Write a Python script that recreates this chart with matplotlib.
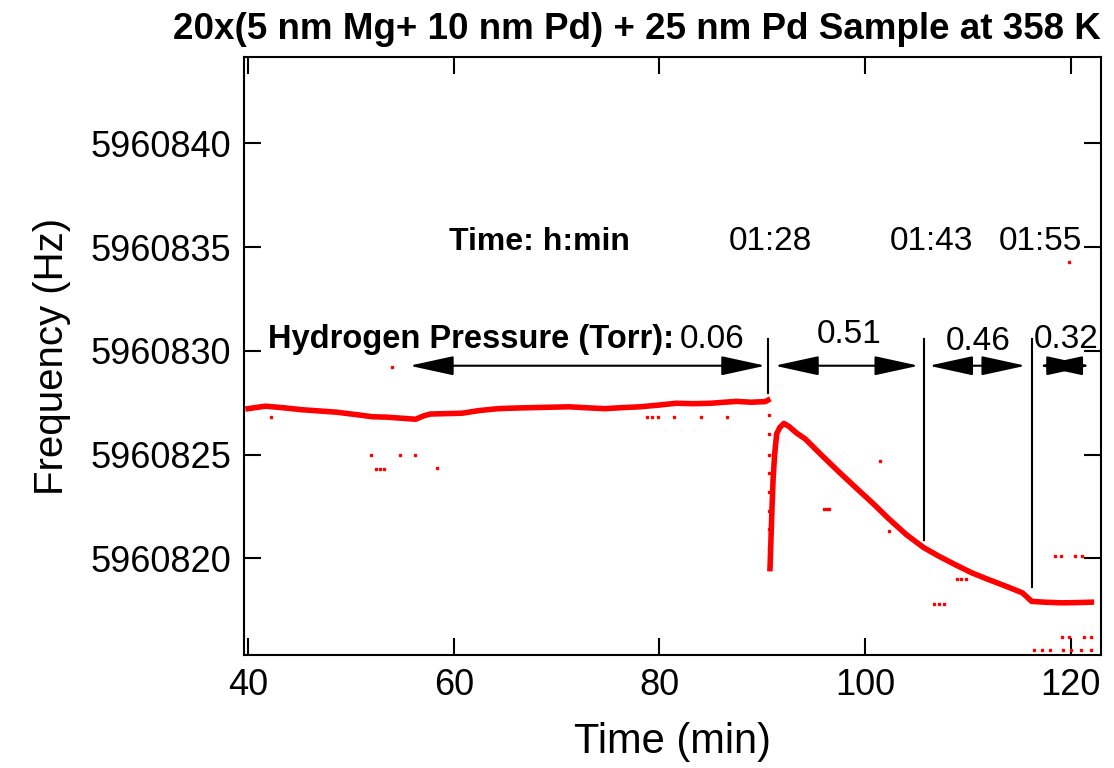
import matplotlib
matplotlib.use("Agg")
from matplotlib import pyplot as plt
from matplotlib.ticker import FormatStrFormatter, MultipleLocator

plt.rcParams["font.family"] = ["Liberation Sans", "DejaVu Sans"]

# baseline at 0.06 Torr (min, Hz)
t_base = [40.0, 41.7, 43.5, 45.2, 46.9, 48.6, 50.4, 52.1, 53.5, 54.9, 56.3, 57.0,
          57.7, 59.2, 60.8, 62.5, 64.3, 66.0, 67.7, 69.5, 71.2, 73.0, 74.7, 76.4,
          78.1, 79.9, 81.6, 83.3, 85.0, 86.3, 87.5, 88.9, 90.3, 90.55]
f_base = [5960827.21, 5960827.33, 5960827.25, 5960827.16, 5960827.10, 5960827.04,
          5960826.93, 5960826.82, 5960826.80, 5960826.75, 5960826.70, 5960826.85,
          5960826.95, 5960826.97, 5960826.99, 5960827.12, 5960827.21, 5960827.24,
          5960827.26, 5960827.28, 5960827.30, 5960827.25, 5960827.21, 5960827.26,
          5960827.30, 5960827.38, 5960827.47, 5960827.45, 5960827.47, 5960827.52,
          5960827.56, 5960827.52, 5960827.55, 5960827.62]

# the pressure step: sparse points while the frequency drops
t_drop = [90.62, 90.63, 90.64, 90.65, 90.66, 90.67, 90.68, 90.69, 90.70]
f_drop = [5960826.9, 5960826.0, 5960825.0, 5960824.1, 5960823.2, 5960822.3,
          5960821.4, 5960820.5, 5960819.5]

# rise and decay after the step
t_after = [90.75, 90.85, 90.95, 91.05, 91.2, 91.4, 91.7, 92.1, 92.6, 93.3, 94.2,
           95.8, 97.5, 99.1, 100.7, 102.3, 104.0, 105.7, 107.2, 108.8, 110.4,
           112.0, 113.7, 115.3, 116.2, 117.5, 119.0, 120.5, 122.0]
f_after = [5960819.5, 5960821.0, 5960822.5, 5960823.8, 5960825.0, 5960826.0,
           5960826.3, 5960826.5, 5960826.35, 5960826.05, 5960825.74, 5960824.95,
           5960824.14, 5960823.40, 5960822.67, 5960821.90, 5960821.14, 5960820.51,
           5960820.09, 5960819.68, 5960819.29, 5960818.97, 5960818.65, 5960818.33,
           5960817.92, 5960817.88, 5960817.85, 5960817.86, 5960817.88]

# stray single readings
t_stray = [42.2, 52.0, 52.4, 52.8, 53.2, 54.0, 54.8, 56.2, 58.4, 78.8, 79.3, 79.9,
           81.4, 84.0, 86.6, 96.0, 96.3, 96.5, 101.4, 102.3, 106.7, 107.2, 107.7,
           108.9, 109.3, 109.8, 118.5, 119.0, 120.4, 121.1, 119.1, 119.8, 121.3,
           122.0, 116.4, 117.2, 118.0, 119.2, 120.0, 121.0, 122.0, 119.8]
f_stray = [5960826.8, 5960825.0, 5960824.3, 5960824.3, 5960824.3, 5960829.2,
           5960825.0, 5960825.0, 5960824.37, 5960826.8, 5960826.8, 5960826.8,
           5960826.8, 5960826.8, 5960826.8, 5960822.38, 5960822.38, 5960822.38,
           5960824.67, 5960821.3, 5960817.81, 5960817.81, 5960817.81, 5960819.0,
           5960819.0, 5960819.0, 5960820.1, 5960820.1, 5960820.1, 5960820.1,
           5960816.21, 5960816.21, 5960816.21, 5960816.21, 5960815.56, 5960815.56,
           5960815.56, 5960815.56, 5960815.56, 5960815.56, 5960815.56, 5960834.3]

# pressure steps
step_t = [90.6, 105.7, 116.2]
step_bottom = [5960827.98, 5960820.9, 5960818.63]
clock_labels = ["01:28", "01:43", "01:55"]
clock_x = [90.78, 106.4, 117.0]
arrow_spans = [(55.7, 90.3), (91.2, 105.2), (106.2, 115.6), (116.9, 121.9)]
pressures = ["0.06", "0.51", "0.46", "0.32"]

fig = plt.figure(figsize=(11.14, 7.68), dpi=100)
ax = fig.add_axes([0.219, 0.147, 0.769, 0.779])

red = "#ff0000"
ax.plot(t_base, f_base, color=red, lw=4, solid_joinstyle="round")
ax.plot(t_after, f_after, color=red, lw=4, solid_joinstyle="round")
ax.plot(t_drop, f_drop, ls="none", marker="s", ms=1.6, color=red)
ax.plot(t_stray, f_stray, ls="none", marker="s", ms=2, color=red)

ax.set_xlim(39.6, 122.9)
ax.set_ylim(5960815.33, 5960844.17)
ax.xaxis.set_major_locator(MultipleLocator(20))
ax.yaxis.set_major_locator(MultipleLocator(5))
ax.yaxis.set_major_formatter(FormatStrFormatter("%d"))
ax.tick_params(direction="in", length=12, width=1.5, labelsize=26, pad=9,
               top=True, right=True)
for sp in ax.spines.values():
    sp.set_linewidth(1.5)

ax.set_xlabel("Time (min)", fontsize=30, labelpad=14)
ax.set_ylabel("Frequency (Hz)", fontsize=29, labelpad=14)
fig.text(0.572, 0.962, "20x(5 nm Mg+ 10 nm Pd) + 25 nm Pd Sample at 358 K",
         fontsize=26.5, fontweight="bold", ha="center", va="center")

# annotations
y_arrow = 5960829.28
y_top = 5960830.58
for x, yb in zip(step_t, step_bottom):
    ax.plot([x, x], [yb, y_top], color="k", lw=1.5)
for x0, x1 in arrow_spans:
    ax.annotate("", xy=(x1, y_arrow), xytext=(x0, y_arrow),
                arrowprops=dict(arrowstyle="<|-|>,head_length=1.1,head_width=0.24",
                                color="k", lw=1.5, mutation_scale=25,
                                shrinkA=0, shrinkB=0))

ax.text(68.35, 5960835.26, "Time: h:min", fontsize=23, fontweight="bold",
        ha="center", va="center")
for x, lab in zip(clock_x, clock_labels):
    ax.text(x, 5960835.26, lab, fontsize=24, ha="center", va="center")

ax.text(41.94, 5960830.53, "Hydrogen Pressure (Torr):", fontsize=23.5,
        fontweight="bold", ha="left", va="center")
ax.text(81.94, 5960830.53, pressures[0], fontsize=24, ha="left", va="center")
ax.text(98.45, 5960830.78, pressures[1], fontsize=24, ha="center", va="center")
ax.text(110.97, 5960830.44, pressures[2], fontsize=24, ha="center", va="center")
ax.text(119.5, 5960830.53, pressures[3], fontsize=24, ha="center", va="center")

fig.savefig("out.png", dpi=100)
